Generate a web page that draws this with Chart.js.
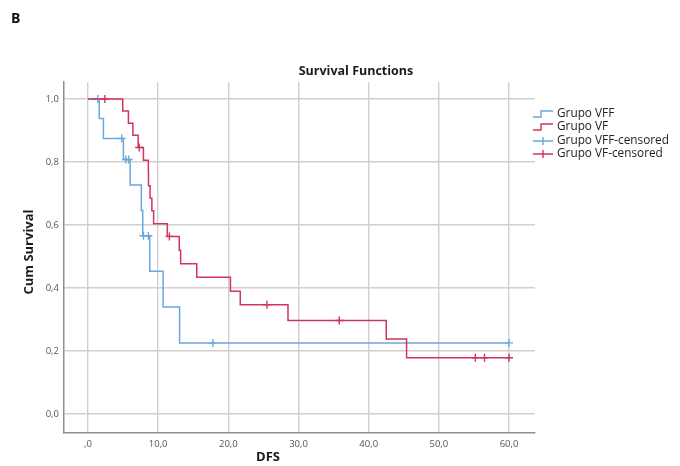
<!DOCTYPE html>
<html>
<head>
<meta charset="utf-8">
<script src="https://cdn.jsdelivr.net/npm/chart.js@4.4.0/dist/chart.umd.min.js"></script>
<style>
  html, body { margin: 0; padding: 0; background: #fff; }
  #wrap { position: relative; width: 680px; height: 466px; }
  #panel { position: absolute; left: 11px; top: 8px; font: bold 14px "Open Sans", sans-serif; color: #111; }
</style>
</head>
<body>
<div id="wrap">
  <canvas id="km" width="680" height="466"></canvas>
  <div id="panel">B</div>
</div>
<script>
// ===== DATA =====
// Grupo VFF (blue) steps: time of each drop and survival after it
const vffTimes = [0, 1.6, 2.2, 5.05, 6.0, 7.6, 7.8, 8.8, 10.7, 13.05, 60];
const vffSurv = [1.0, 0.938, 0.875, 0.808, 0.727, 0.646, 0.566, 0.453, 0.340, 0.226, 0.226];
const vffCensTimes = [1.4, 4.8, 5.4, 5.8, 7.9, 8.6, 17.8, 60];
const vffCensSurv = [1.0, 0.875, 0.808, 0.808, 0.566, 0.566, 0.226, 0.226];

// Grupo VF (red)
const vfTimes = [0, 4.95, 5.76, 6.4, 7.15, 7.9, 8.6, 8.62, 8.85, 9.1, 9.35, 11.3, 13.0, 13.2, 15.5, 20.3, 21.7, 28.5, 42.5, 45.4, 60];
const vfSurv = [1.0, 0.962, 0.923, 0.885, 0.846, 0.806, 0.766, 0.725, 0.685, 0.645, 0.604, 0.564, 0.520, 0.477, 0.434, 0.390, 0.347, 0.297, 0.238, 0.179, 0.179];
const vfCensTimes = [2.4, 7.3, 11.6, 25.5, 35.8, 55.2, 56.5, 60];
const vfCensSurv = [1.0, 0.846, 0.564, 0.347, 0.297, 0.179, 0.179, 0.179];

const xTicks = [0, 10, 20, 30, 40, 50, 60];
const xTickLabels = [",0", "10,0", "20,0", "30,0", "40,0", "50,0", "60,0"];
const yTicks = [0, 0.2, 0.4, 0.6, 0.8, 1.0];
const yTickLabels = ["0,0", "0,2", "0,4", "0,6", "0,8", "1,0"];
const legendLabels = ["Grupo VFF", "Grupo VF", "Grupo VFF-censored", "Grupo VF-censored"];

// ===== STYLE =====
const BLUE = "#6aa7df";
const RED = "#d2345a";
const FONT = '"Open Sans", "Noto Sans", sans-serif';

function pts(xs, ys) {
  return xs.map((x, i) => ({ x: x, y: ys[i] }));
}

// ===== TEXT + LEGEND PLUGIN =====
const decor = {
  id: "decor",
  afterDraw(chart) {
    const c = chart.ctx;
    c.save();
    c.fillStyle = "#1a1a1a";
    c.textBaseline = "middle";

    // title
    c.font = "bold 12.5px " + FONT;
    c.textAlign = "center";
    c.fillText("Survival Functions", 356, 71);

    // axis titles
    c.font = "bold 13px " + FONT;
    c.fillText("DFS", 268, 457);
    c.save();
    c.translate(29, 252);
    c.rotate(-Math.PI / 2);
    c.fillText("Cum Survival", 0, 0);
    c.restore();

    // legend
    const rows = [114, 127, 141, 154];
    const colors = [BLUE, RED, BLUE, RED];
    c.font = "11.8px " + FONT;
    c.textAlign = "left";
    rows.forEach((y, i) => {
      c.strokeStyle = colors[i];
      c.lineWidth = 1.4;
      c.beginPath();
      if (i < 2) {
        c.moveTo(533, y + 3);
        c.lineTo(541, y + 3);
        c.lineTo(541, y - 3);
        c.lineTo(553, y - 3);
      } else {
        c.moveTo(533, y);
        c.lineTo(553, y);
        c.moveTo(543, y - 4);
        c.lineTo(543, y + 4);
      }
      c.stroke();
      c.fillStyle = "#222";
      c.fillText(legendLabels[i], 557, y);
    });
    c.restore();
  },
};

// ===== CHART =====
const ctx = document.getElementById("km").getContext("2d");
new Chart(ctx, {
  type: "line",
  data: {
    datasets: [
      {
        label: legendLabels[3],
        data: pts(vfCensTimes, vfCensSurv),
        showLine: false,
        pointStyle: "cross",
        pointRadius: 4,
        pointBorderWidth: 1.4,
        pointBorderColor: RED,
        borderColor: RED,
      },
      {
        label: legendLabels[1],
        data: pts(vfTimes, vfSurv),
        stepped: true,
        borderColor: RED,
        borderWidth: 1.5,
        pointRadius: 0,
        fill: false,
      },
      {
        label: legendLabels[2],
        data: pts(vffCensTimes, vffCensSurv),
        showLine: false,
        pointStyle: "cross",
        pointRadius: 4,
        pointBorderWidth: 1.4,
        pointBorderColor: BLUE,
        borderColor: BLUE,
      },
      {
        label: legendLabels[0],
        data: pts(vffTimes, vffSurv),
        stepped: true,
        borderColor: BLUE,
        borderWidth: 1.5,
        pointRadius: 0,
        fill: false,
      },
    ],
  },
  options: {
    responsive: false,
    animation: false,
    layout: { padding: { left: 34, top: 82, right: 145, bottom: 13 } },
    plugins: {
      legend: { display: false },
      title: { display: false },
      tooltip: { enabled: false },
    },
    scales: {
      x: {
        type: "linear",
        min: -3.42,
        max: 63.7,
        afterBuildTicks: (s) => { s.ticks = xTicks.map((v) => ({ value: v })); },
        afterFit: (s) => { s.height = 20; },
        ticks: {
          autoSkip: false,
          maxRotation: 0,
          padding: 6,
          color: "#555",
          font: { family: FONT, size: 9.5 },
          callback: (v, i) => xTickLabels[i],
        },
        grid: { color: "#d0d0d0", lineWidth: 1.4, drawTicks: false },
        border: { color: "#8f8f8f", width: 1.5 },
      },
      y: {
        min: -0.06,
        max: 1.054,
        afterBuildTicks: (s) => { s.ticks = yTicks.map((v) => ({ value: v })); },
        afterFit: (s) => { s.width = 30; },
        ticks: {
          autoSkip: false,
          padding: 5,
          color: "#555",
          font: { family: FONT, size: 9.5 },
          callback: (v, i) => yTickLabels[i],
        },
        grid: { color: "#d0d0d0", lineWidth: 1.4, drawTicks: false },
        border: { color: "#8f8f8f", width: 1.5 },
      },
    },
  },
  plugins: [decor],
});
</script>
</body>
</html>
